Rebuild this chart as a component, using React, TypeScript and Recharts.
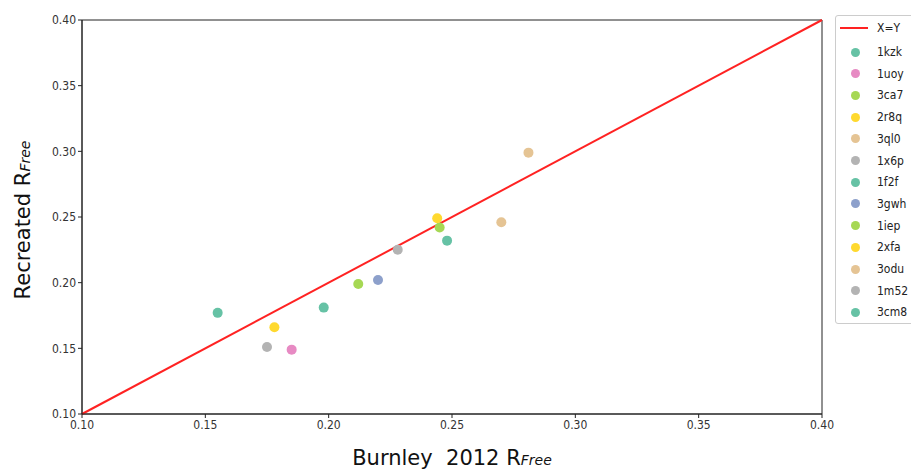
import React from "react";
import {
  ScatterChart,
  Scatter,
  XAxis,
  YAxis,
  ReferenceLine,
  ReferenceArea,
} from "recharts";

// one entry per structure, legend order
const structures = ["1kzk", "1uoy", "3ca7", "2r8q", "3ql0", "1x6p", "1f2f", "3gwh", "1iep", "2xfa", "3odu", "1m52", "3cm8"];
const colors = ["#66c2a5", "#e78ac3", "#a6d854", "#ffd92f", "#e5c494", "#b3b3b3", "#66c2a5", "#8da0cb", "#a6d854", "#ffd92f", "#e5c494", "#b3b3b3", "#66c2a5"];
const burnleyRFree = [0.155, 0.185, 0.212, 0.178, 0.270, 0.175, 0.198, 0.220, 0.245, 0.244, 0.281, 0.228, 0.248];
const recreatedRFree = [0.177, 0.149, 0.199, 0.166, 0.246, 0.151, 0.181, 0.202, 0.242, 0.249, 0.299, 0.225, 0.232];
const ticks = [0.1, 0.15, 0.2, 0.25, 0.3, 0.35, 0.4];

const FONT = "'DejaVu Sans Condensed', 'DejaVu Sans', sans-serif";
const TITLE_FONT = "'DejaVu Sans', sans-serif";

const W = 911;
const H = 469;
const ROW = 21.7;

export default function App() {
  const tickStyle = { fontSize: 12, fill: "#333", fontFamily: FONT };
  return (
    <div style={{ position: "fixed", left: 0, top: 0, width: W, height: H, overflow: "hidden", background: "#fff", fontFamily: FONT }}>
      <ScatterChart width={W} height={H} margin={{ top: 20, right: 89, bottom: 15, left: 22 }}>
        <XAxis
          type="number"
          dataKey="x"
          domain={[0.1, 0.4]}
          ticks={ticks}
          tickFormatter={(v: number) => v.toFixed(2)}
          tick={tickStyle}
          tickSize={4}
          height={40}
          stroke="#222"
          allowDataOverflow
        />
        <YAxis
          type="number"
          dataKey="y"
          domain={[0.1, 0.4]}
          ticks={ticks}
          tickFormatter={(v: number) => v.toFixed(2)}
          tick={tickStyle}
          tickSize={4}
          width={60}
          stroke="#222"
          allowDataOverflow
        />
        <ReferenceArea x1={0.1} x2={0.4} y1={0.1} y2={0.4} fill="none" stroke="#222" strokeWidth={1} />
        <ReferenceLine
          segment={[{ x: 0.1, y: 0.1 }, { x: 0.4, y: 0.4 }]}
          stroke="#ff2222"
          strokeWidth={2}
        />
        {structures.map((name, i) => (
          <Scatter
            key={name}
            name={name}
            data={[{ x: burnleyRFree[i], y: recreatedRFree[i] }]}
            fill={colors[i]}
            isAnimationActive={false}
            shape={(p: any) => <circle cx={p.cx} cy={p.cy} r={5} fill={colors[i]} />}
          />
        ))}
      </ScatterChart>

      {/* axis titles */}
      <div
        style={{
          position: "absolute",
          left: 452,
          top: 458,
          transform: "translate(-50%, -50%)",
          fontSize: 21,
          fontFamily: TITLE_FONT,
          color: "#111",
          whiteSpace: "nowrap",
        }}
      >
        Burnley&nbsp; 2012 R<i style={{ fontSize: 14 }}>Free</i>
      </div>
      <div
        style={{
          position: "absolute",
          left: 23,
          top: 220,
          transform: "translate(-50%, -50%) rotate(-90deg)",
          fontSize: 21,
          fontFamily: TITLE_FONT,
          color: "#111",
          whiteSpace: "nowrap",
        }}
      >
        Recreated R<i style={{ fontSize: 14 }}>Free</i>
      </div>

      {/* legend */}
      <div
        style={{
          position: "absolute",
          left: 835,
          top: 15,
          width: 100,
          height: 309,
          border: "1px solid #ccc",
          borderRadius: 3,
          boxSizing: "border-box",
          fontSize: 12,
          lineHeight: "14px",
          color: "#222",
        }}
      >
        <div style={{ position: "absolute", left: 4, top: 11, width: 28, height: 2, background: "#ff2222" }} />
        <div style={{ position: "absolute", left: 41, top: 5 }}>X=Y</div>
        {structures.map((name, i) => (
          <React.Fragment key={name}>
            <div
              style={{
                position: "absolute",
                left: 14.5,
                top: 31.5 + i * ROW,
                width: 9,
                height: 9,
                borderRadius: "50%",
                background: colors[i],
              }}
            />
            <div style={{ position: "absolute", left: 41, top: 29 + i * ROW }}>{name}</div>
          </React.Fragment>
        ))}
      </div>
    </div>
  );
}
